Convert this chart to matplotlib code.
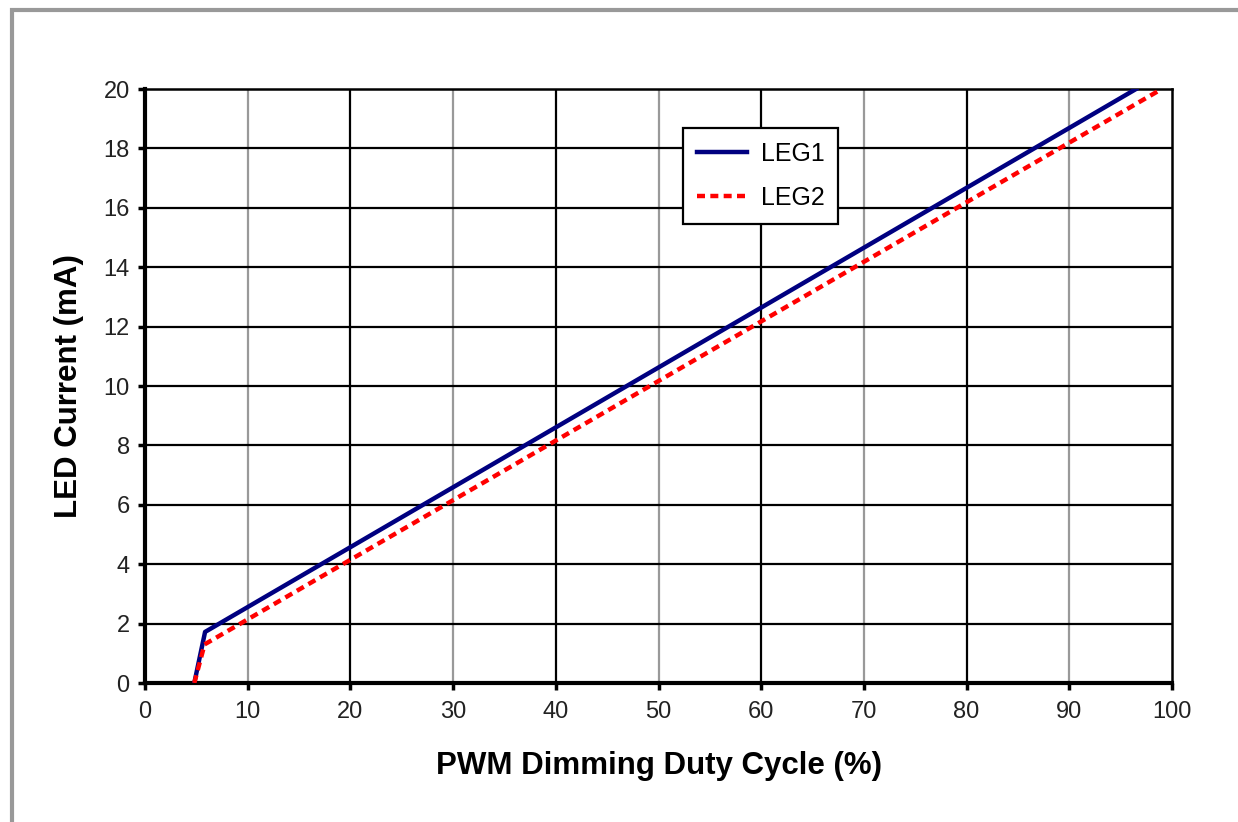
import matplotlib
matplotlib.use("Agg")
import matplotlib.pyplot as plt
from matplotlib.patches import Rectangle

duty1 = [4.8, 5.85, 96.5]
led1 = [0.0, 1.72, 20.0]
duty2 = [4.8, 5.8, 99.0]
led2 = [0.0, 1.3, 20.0]
xticks = list(range(0, 101, 10))
yticks = list(range(0, 21, 2))

plt.rcParams['font.family'] = ['Liberation Sans', 'DejaVu Sans']

fig = plt.figure(figsize=(12.38, 8.22), dpi=100)
fig.patches.append(Rectangle((12/1238, -0.1), 1.2, 1 - 10/822 + 0.1, transform=fig.transFigure,
                             fill=False, edgecolor='#999999', linewidth=3))
ax = fig.add_axes([145/1238, 1 - 683/822, (1172 - 145)/1238, (683 - 89)/822])

ax.set_xlim(0, 100)
ax.set_ylim(0, 20)
ax.set_xticks(xticks)
ax.set_yticks(yticks)

for x in xticks[1:-1]:
    ax.axvline(x, color='#999999' if (x // 10) % 2 == 1 else 'black', linewidth=1.6, zorder=1)
for y in yticks[1:-1]:
    ax.axhline(y, color='black', linewidth=1.6, zorder=1)

ax.plot(duty1, led1, color='#000080', linewidth=3.2, label='LEG1', zorder=3)
ax.plot(duty2, led2, color='#ff0000', linewidth=3.2, linestyle=(0, (1.8, 1.2)),
        dash_capstyle='butt', label='LEG2', zorder=4)

for s in ['left', 'bottom']:
    ax.spines[s].set_linewidth(3)
for s in ['right', 'top']:
    ax.spines[s].set_linewidth(1.8)
ax.tick_params(axis='x', direction='out', length=5, width=2.5, labelsize=17, colors='black',
               labelcolor='#222222', pad=8)
ax.tick_params(axis='y', direction='out', length=5, width=2.5, labelsize=17, colors='black',
               labelcolor='#222222', pad=6)

ax.set_xlabel('PWM Dimming Duty Cycle (%)', fontsize=22.5, fontweight='bold', labelpad=20)
ax.set_ylabel('LED Current (mA)', fontsize=22.5, fontweight='bold', labelpad=14)

leg = ax.legend(loc='upper left', bbox_to_anchor=(0.524, 0.934), fontsize=18, frameon=True,
                fancybox=False, edgecolor='black', handlelength=2.0, borderpad=0.55, labelspacing=0.8,
                handletextpad=0.55, borderaxespad=0)
leg.get_frame().set_linewidth(1.6)
leg.get_frame().set_facecolor('white')
leg.get_frame().set_alpha(1)

fig.savefig('out.png', dpi=100)
